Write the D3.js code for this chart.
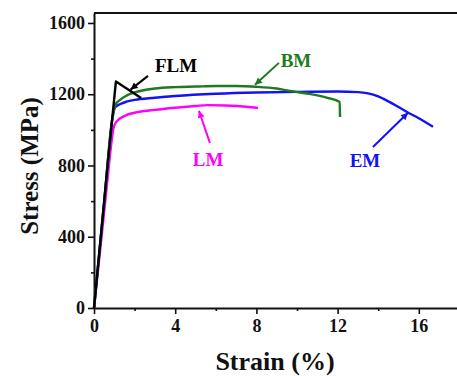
<!DOCTYPE html>
<html>
<head>
<meta charset="utf-8">
<script src="https://cdn.jsdelivr.net/npm/d3@7"></script>
<style>
  html, body { margin: 0; padding: 0; background: #fff; }
  svg { display: block; }
</style>
</head>
<body>
<svg id="chart" width="457" height="376"></svg>
<script>
// ---- data ----
const xMajorTicks = [0, 4, 8, 12, 16];
const xMinorTicks = [2, 6, 10, 14];
const yMajorTicks = [0, 400, 800, 1200, 1600];
const yMinorTicks = [200, 600, 1000, 1400];

const flmStrain = [0, 0.3, 0.6, 1.08, 2.32];
const flmStress = [0, 360, 720, 1272, 1179];

const lmStrain = [0, 0.3, 0.6, 0.85, 0.95, 1.1, 1.5, 2, 3, 4, 5, 5.6, 6.5, 7.5, 8.08];
const lmStress = [0, 320, 650, 920, 1005, 1045, 1078, 1096, 1112, 1124, 1134, 1139, 1137, 1130, 1123];

const bmStrain = [0, 0.5, 0.9, 1.05, 1.3, 1.6, 2, 3, 4, 5, 6, 7, 8, 9, 9.5, 10.15, 10.6, 11.5, 12.1, 12.12];
const bmStress = [0, 590, 1060, 1140, 1170, 1192, 1210, 1232, 1240, 1243, 1246, 1246, 1242, 1232, 1222, 1210, 1202, 1180, 1157, 1072];

const emStrain = [0, 0.5, 0.9, 1.03, 1.3, 1.6, 2, 3, 4, 6, 8, 10, 12, 13, 13.5, 14, 14.5, 15, 15.5, 16, 16.7];
const emStress = [0, 590, 1060, 1125, 1145, 1158, 1168, 1180, 1190, 1203, 1210, 1213, 1215, 1212, 1205, 1188, 1160, 1128, 1095, 1065, 1017];

const seriesNames = ["FLM", "LM", "BM", "EM"];
const seriesColors = ["#000000", "#ff00ff", "#1f7a1f", "#1212f5"];

// annotation: label position and arrow (data coords)
const labelStrain = [4.04, 5.62, 9.95, 13.35];
const labelStress = [1326, 798, 1354, 792];
const arrowFromStrain = [2.66, 5.71, 9.11, 13.74];
const arrowFromStress = [1303, 927, 1376, 904];
const arrowToStrain = [1.8, 5.17, 7.93, 15.47];
const arrowToStress = [1226, 1107, 1253, 1096];

// ---- layout ----
const svg = d3.select("#chart");
const pLeft = 94, pRight = 461, pTop = 13, pBottom = 308;
const x = d3.scaleLinear().domain([0, 18]).range([pLeft, 459.4]);
const y = d3.scaleLinear().domain([0, 1656]).range([pBottom, pTop]);
const font = "'Liberation Serif','Times New Roman',serif";

svg.append("rect").attr("width", 457).attr("height", 376).attr("fill", "#fff");

// frame top
svg.append("line").attr("x1", pLeft).attr("x2", pRight).attr("y1", pTop).attr("y2", pTop)
  .attr("stroke", "#111").attr("stroke-width", 2);

// axes
const xAxis = d3.axisBottom(x).tickValues(xMajorTicks).tickSize(6).tickSizeOuter(0).tickPadding(3).tickFormat(d3.format("d"));
const gx = svg.append("g").attr("transform", `translate(0,${pBottom})`).call(xAxis);
const gxm = svg.append("g").attr("transform", `translate(0,${pBottom})`)
  .call(d3.axisBottom(x).tickValues(xMinorTicks).tickSize(3).tickFormat(""));
const yAxis = d3.axisLeft(y).tickValues(yMajorTicks).tickSize(6).tickSizeOuter(0).tickPadding(3).tickFormat(d3.format("d"));
const gy = svg.append("g").attr("transform", `translate(${pLeft},0)`).call(yAxis);
const gym = svg.append("g").attr("transform", `translate(${pLeft},0)`)
  .call(d3.axisLeft(y).tickValues(yMinorTicks).tickSize(3).tickFormat(""));

[gx, gxm, gy, gym].forEach(g => {
  g.selectAll(".domain").attr("stroke", "#111").attr("stroke-width", 2);
  g.selectAll(".tick line").attr("stroke", "#111").attr("stroke-width", 1.6);
  g.selectAll(".tick text").attr("fill", "#111")
    .style("font-family", font).style("font-weight", "bold").style("font-size", "18px");
});
gxm.select(".domain").remove();
gym.select(".domain").remove();
gx.selectAll(".tick text").attr("dy", "0.85em");

// axis titles
svg.append("text").attr("x", 275).attr("y", 370).attr("text-anchor", "middle")
  .style("font-family", font).style("font-weight", "bold").style("font-size", "26px")
  .attr("fill", "#111").text("Strain (%)");
svg.append("text").attr("transform", "translate(38,166) rotate(-90)").attr("text-anchor", "middle")
  .style("font-family", font).style("font-weight", "bold").style("font-size", "25px")
  .attr("fill", "#111").text("Stress (MPa)");

// curves
const allStrain = [flmStrain, lmStrain, bmStrain, emStrain];
const allStress = [flmStress, lmStress, bmStress, emStress];
const lineLin = d3.line().x(d => x(d[0])).y(d => y(d[1]));
const lineSmooth = d3.line().x(d => x(d[0])).y(d => y(d[1])).curve(d3.curveMonotoneX);
const order = [1, 3, 2, 0];
order.forEach(i => {
  const pts = allStrain[i].map((s, k) => [s, allStress[i][k]]);
  svg.append("path").attr("d", (i === 0 ? lineLin : lineSmooth)(pts))
    .attr("fill", "none").attr("stroke", seriesColors[i]).attr("stroke-width", 2.4)
    .attr("stroke-linejoin", "round");
});

// arrow markers
const defs = svg.append("defs");
seriesColors.forEach((c, i) => {
  defs.append("marker").attr("id", "ah" + i).attr("viewBox", "0 0 10 10")
    .attr("refX", 10).attr("refY", 5).attr("markerWidth", 9).attr("markerHeight", 7)
    .attr("markerUnits", "userSpaceOnUse").attr("orient", "auto")
    .append("path").attr("d", "M0,0 L10,5 L0,10 z").attr("fill", c);
});

seriesNames.forEach((name, i) => {
  svg.append("line")
    .attr("x1", x(arrowFromStrain[i])).attr("y1", y(arrowFromStress[i]))
    .attr("x2", x(arrowToStrain[i])).attr("y2", y(arrowToStress[i]))
    .attr("stroke", seriesColors[i]).attr("stroke-width", 2)
    .attr("marker-end", `url(#ah${i})`);
  svg.append("text").attr("x", x(labelStrain[i])).attr("y", y(labelStress[i]))
    .attr("text-anchor", "middle").attr("fill", seriesColors[i])
    .style("font-family", font).style("font-weight", "bold").style("font-size", "19px")
    .text(name);
});
</script>
</body>
</html>
